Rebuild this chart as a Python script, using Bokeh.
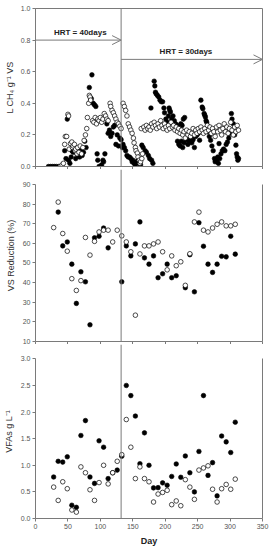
from bokeh.plotting import figure
from bokeh.layouts import column
from bokeh.models import (Span, Arrow, OpenHead, Label, LinearAxis, FixedTicker,
                          NumeralTickFormatter, Range1d)
from bokeh.embed import file_html
from bokeh.resources import INLINE

# ---------------- data ----------------
ch4_filled_day = [20, 23, 26, 29, 32, 36, 45, 47, 49, 51, 53, 55, 56, 58, 60, 62, 64, 66, 68, 70, 72, 74, 76, 78,
                  83, 85, 86, 87, 89, 91, 93, 95, 96, 98, 100, 102, 104, 105, 107,
                  110, 112, 114, 116, 118, 120, 122, 124, 126, 128, 130, 132, 134, 135, 137, 139, 141, 143, 145, 147,
                  149, 150, 152, 154, 156, 158, 160, 162, 164, 166, 169, 171, 174, 176, 178, 179, 181,
                  183, 184, 185, 186, 188, 190, 192, 194, 196, 198, 199, 201, 203, 205, 206, 207, 208, 210, 212, 214,
                  216, 218, 219, 220, 221, 222, 223, 224, 225, 226, 227, 228, 229, 230, 233, 235, 237, 239, 241, 243,
                  245, 247, 249, 251, 253, 255, 257, 258, 260, 261, 262, 263, 264, 266, 268, 270, 272, 274, 276, 277,
                  279, 281, 282, 283, 284, 286, 288, 290, 292, 294, 296, 298, 300, 302, 303, 305, 307, 309, 310, 311,
                  312, 313]
ch4_filled = [0.0, 0.0, 0.0, 0.0, 0.0, 0.0, 0.10, 0.05, 0.30, 0.04, 0.02, 0.06, 0.10, 0.09, 0.12, 0.05, 0.08, 0.07,
              0.06, 0.10, 0.07, 0.09, 0.16, 0.12,
              0.50, 0.42, 0.43, 0.58, 0.40, 0.39, 0.38, 0.08, 0.04, 0.00, 0.00, 0.01, 0.04, 0.03, 0.08,
              0.27, 0.21, 0.23, 0.19, 0.21, 0.25, 0.26, 0.14, 0.20, 0.13, 0.18, 0.17, 0.12, 0.14, 0.12, 0.10, 0.07,
              0.06, 0.06, 0.05,
              0.03, 0.04, 0.02, 0.01, 0.03, 0.04, 0.02, 0.01, 0.135, 0.12, 0.10, 0.09, 0.07, 0.05, 0.37, 0.04, 0.02,
              0.54, 0.51, 0.47, 0.46, 0.45, 0.44, 0.42, 0.41, 0.41, 0.37, 0.34, 0.30, 0.28, 0.32, 0.37, 0.355, 0.345,
              0.30, 0.32, 0.29,
              0.27, 0.26, 0.16, 0.25, 0.14, 0.24, 0.13, 0.27, 0.16, 0.26, 0.12, 0.30, 0.15, 0.31, 0.17, 0.14, 0.16,
              0.18, 0.15, 0.17,
              0.12, 0.19, 0.20, 0.21, 0.166, 0.42, 0.376, 0.366, 0.335, 0.324, 0.313, 0.29, 0.28, 0.22, 0.19, 0.166,
              0.13, 0.10, 0.05, 0.03,
              0.04, 0.06, 0.02, 0.145, 0.05, 0.08, 0.10, 0.11, 0.10, 0.14, 0.155, 0.18, 0.21, 0.335, 0.30, 0.27, 0.20,
              0.135, 0.08, 0.06,
              0.04, 0.05]

ch4_open_day = [38, 41, 43, 45, 46, 48, 50, 51, 52, 54, 56, 57, 58, 60, 61, 62, 64, 65, 67, 69, 71, 73, 75, 77, 79,
                80, 82, 83, 84, 85,
                88, 90, 92, 94, 96, 98, 100, 102, 104, 106, 108, 110, 112, 115, 116, 118, 120, 122, 124, 126, 128,
                130, 132, 135, 137, 139, 141, 143, 145, 147, 149, 151, 152, 154, 155, 157, 158, 160, 161, 162, 164,
                165,
                163, 167, 169, 171, 173, 175, 177, 179, 181, 183, 185, 187, 189, 191, 193, 195, 197, 199, 201, 203,
                205, 207, 209, 211, 213, 215, 217, 219, 221, 223, 225, 227, 229, 231, 233, 235, 237, 239, 241, 243,
                245, 247, 249, 251, 253, 255, 257, 259, 261, 263, 265, 267, 269, 271, 273, 275, 277, 279, 281, 283,
                285, 287, 289, 291, 293, 295, 297, 299, 301, 303, 305, 307, 309, 311, 313]
ch4_open = [0.00, 0.01, 0.02, 0.14, 0.19, 0.19, 0.33, 0.32, 0.11, 0.145, 0.155, 0.12, 0.13, 0.14, 0.10, 0.11, 0.08,
            0.12, 0.09, 0.13, 0.08, 0.12, 0.165, 0.20, 0.24,
            0.31, 0.40, 0.45, 0.44, 0.42,
            0.29, 0.28, 0.31, 0.27, 0.30, 0.29, 0.31, 0.28, 0.30, 0.335, 0.32, 0.30, 0.29, 0.40, 0.38, 0.355, 0.34,
            0.32, 0.30, 0.28, 0.27,
            0.255, 0.24, 0.40, 0.38, 0.355, 0.32, 0.27, 0.25, 0.23, 0.21, 0.18, 0.15, 0.12, 0.10, 0.085, 0.06, 0.04,
            0.02, 0.03, 0.05,
            0.08,
            0.24, 0.25, 0.23, 0.26, 0.24, 0.25, 0.23, 0.27, 0.25, 0.28, 0.26, 0.24, 0.27, 0.25, 0.29, 0.26, 0.24,
            0.27, 0.25, 0.23,
            0.26, 0.24, 0.28, 0.25, 0.26, 0.23, 0.25, 0.22, 0.24, 0.21, 0.23, 0.20, 0.22, 0.18, 0.23, 0.20, 0.22,
            0.19, 0.21, 0.24,
            0.20, 0.23, 0.21, 0.24, 0.22, 0.25, 0.23, 0.21, 0.24, 0.22, 0.26, 0.23, 0.25, 0.21, 0.24, 0.22, 0.19,
            0.25, 0.22, 0.26,
            0.23, 0.20, 0.24, 0.27, 0.22, 0.25, 0.21, 0.24, 0.28, 0.23, 0.20, 0.25, 0.22, 0.26, 0.23]

week_day = [28, 35, 42, 49, 56, 63, 70, 77, 84, 91, 98, 105, 112, 119, 126, 133, 140, 147, 154, 161, 168, 175, 182,
            189, 196, 203, 210, 217, 224, 231, 238, 245, 252, 259, 266, 273, 280, 287, 294, 301, 308]

vs_open = [68, 81, 65, 56, 42, 36, 41, 63, 54, 61, 65.8, 66.7, 66.7, 60.7, 66.7, 63.8, 60.7, 55.7, 23.4, 54.6, 58.7,
           58.7, 59.7, 60.7, 55.7, 46.5, 53.6, 48.6, 50.6, 38.6, 54.7, 70.9, 75.9, 66.7, 65.8, 67.8, 69.7, 70.9,
           68.9, 68.9, 69.7]
vs_filled_day = [35, 42, 49, 56, 63, 70, 77, 84, 91, 98, 105, 112, 133, 140, 147, 154, 161, 168, 175, 182, 189, 196,
                 203, 210, 217, 231, 238, 245, 252, 259, 266, 273, 280, 287, 294, 301, 308]
vs_filled = [75.9, 58.7, 60.7, 49.4, 29.4, 45.5, 40.4, 18.5, 62.8, 63.6, 67.8, 57.7, 40.4, 58.7, 53.6, 59.7, 70.9,
             52.6, 49.4, 53.6, 42.5, 44.5, 49.4, 42.5, 43.5, 37.4, 54.2, 35.3, 70.5, 58.5, 49.4, 45.2, 49.4, 53.4,
             53.1, 63.6, 54.5]

vfa_filled = [0.78, 1.075, 1.06, 1.16, 0.25, 0.21, 1.56, 1.84, 0.78, 0.66, 1.46, 1.34, 0.75, 0.86, 0.91, 1.17, 2.50,
              2.31, 1.925, 1.03, 1.61, 1.0, 0.575, 0.58, 0.67, 0.625, 0.79, 1.025, 0.775, 1.175, 0.86, 0.5, 1.26,
              2.31, 0.81, 1.05, 0.425, 1.55, 1.44, 1.24, 1.81]
vfa_open = [0.59, 0.34, 0.69, 0.56, 0.16, 0.12, 0.97, 0.86, 0.54, 0.34, 0.675, 1.0, 0.65, 0.86, 1.075, 1.2, 1.86,
            1.34, 0.75, 0.97, 0.75, 0.69, 0.31, 0.46, 0.49, 0.53, 0.26, 0.33, 0.24, 0.73, 0.59, 0.36, 0.91, 0.95,
            0.99, 0.55, 0.31, 0.56, 0.64, 0.55, 0.74]

x_ticks = [0, 50, 100, 150, 200, 250, 300, 350]
ch4_ticks = [0.0, 0.2, 0.4, 0.6, 0.8, 1.0]
vs_ticks = [10, 20, 30, 40, 50, 60, 70, 80, 90]
vfa_ticks = [0.0, 0.5, 1.0, 1.5, 2.0, 2.5, 3.0]

hrt_change_day = 132
hrt1_label = "HRT = 40days"
hrt2_label = "HRT = 30days"

# ---------------- style ----------------
FONT = "Liberation Sans"
LINE = "#7a7a7a"
TICKTXT = "#555555"
MS = 4.6


def style(p, y_ticks, y_fmt, y_label, y_bounds, label_standoff, show_x_labels=False):
    p.xaxis.ticker = FixedTicker(ticks=x_ticks)
    p.yaxis.ticker = FixedTicker(ticks=y_ticks)
    if y_fmt:
        p.yaxis.formatter = NumeralTickFormatter(format=y_fmt)
    p.yaxis.bounds = y_bounds
    p.yaxis.axis_label = y_label
    for ax in (p.xaxis[0], p.yaxis[0]):
        ax.axis_line_color = LINE
        ax.major_tick_line_color = LINE
        ax.major_tick_out = 3
        ax.major_tick_in = 0
        ax.minor_tick_line_color = None
        ax.major_label_text_font = FONT
        ax.major_label_text_color = TICKTXT
        ax.major_label_text_font_size = "7px"
        ax.major_label_standoff = 2
        ax.axis_label_text_font = FONT
        ax.axis_label_text_font_style = "normal"
        ax.axis_label_text_color = "#333333"
        ax.axis_label_text_font_size = "9px"
    p.yaxis.axis_label_standoff = label_standoff
    p.xaxis.axis_label_standoff = 4
    if not show_x_labels:
        p.xaxis.major_label_text_font_size = "0px"
        p.xaxis.major_label_text_color = None
        p.xaxis.major_label_standoff = 0
    p.xgrid.visible = False
    p.ygrid.visible = False
    p.add_layout(Span(location=hrt_change_day, dimension="height", line_color=LINE, line_width=1))


def right_line(p, bounds):
    ax = LinearAxis(bounds=bounds, ticker=FixedTicker(ticks=[]), axis_line_color=LINE,
                    major_tick_line_color=None, minor_tick_line_color=None,
                    major_label_text_font_size="0px", major_label_text_color=None,
                    major_label_standoff=0, major_tick_out=0, major_tick_in=0)
    p.add_layout(ax, "right")


# ---------------- panel 1 ----------------
p1 = figure(frame_width=227, frame_height=158, min_border_left=35, min_border_right=8, min_border_top=8,
            min_border_bottom=0, x_range=Range1d(0, 350), y_range=Range1d(0, 1.0),
            output_backend="svg", toolbar_location=None)
p1.outline_line_color = LINE
style(p1, ch4_ticks, "0.0", "L CH\u2084 g\u207b\u00b9 VS", (0, 1.0), 3)
p1.scatter(ch4_filled_day, ch4_filled, marker="circle", size=MS, fill_color="black", line_color="black",
           line_width=0.6)
p1.scatter(ch4_open_day, ch4_open, marker="circle", size=MS, fill_color="white", line_color="black",
           line_width=0.7)
p1.add_layout(Arrow(end=OpenHead(size=9, line_color=LINE, line_width=1), x_start=0, y_start=0.8,
                    x_end=hrt_change_day, y_end=0.8, line_color=LINE, line_width=1))
p1.add_layout(Arrow(end=OpenHead(size=9, line_color=LINE, line_width=1), x_start=hrt_change_day, y_start=0.678,
                    x_end=350, y_end=0.678, line_color=LINE, line_width=1))
p1.add_layout(Label(x=69, y=0.846, text=hrt1_label, text_font=FONT, text_font_style="bold",
                    text_font_size="8px", text_align="center", text_baseline="middle", text_color="#222222"))
p1.add_layout(Label(x=232, y=0.728, text=hrt2_label, text_font=FONT, text_font_style="bold",
                    text_font_size="8px", text_align="center", text_baseline="middle", text_color="#222222"))

# ---------------- panel 2 ----------------
p2 = figure(frame_width=227, frame_height=172, min_border_left=35, min_border_right=8, min_border_top=0,
            min_border_bottom=0, x_range=Range1d(0, 350), y_range=Range1d(10, 97.6),
            output_backend="svg", toolbar_location=None)
p2.outline_line_color = None
style(p2, vs_ticks, None, "VS Reduction (%)", (10, 90), 4)
right_line(p2, (10, 90))
p2.scatter(vs_filled_day, vs_filled, marker="circle", size=MS, fill_color="black", line_color="black",
           line_width=0.6)
p2.scatter(week_day, vs_open, marker="circle", size=MS, fill_color="white", line_color="black", line_width=0.7)

# ---------------- panel 3 ----------------
p3 = figure(frame_width=227, frame_height=174, min_border_left=35, min_border_right=8, min_border_top=0,
            min_border_bottom=0, x_range=Range1d(0, 350), y_range=Range1d(0, 3.27),
            output_backend="svg", toolbar_location=None)
p3.outline_line_color = None
style(p3, vfa_ticks, "0.0", "VFAs g L\u207b\u00b9", (0, 3.0), 4, show_x_labels=True)
p3.xaxis.axis_label = "Day"
p3.xaxis.axis_label_text_font_style = "bold"
p3.xaxis.axis_label_text_color = "#222222"
right_line(p3, (0, 3.0))
p3.scatter(week_day, vfa_filled, marker="circle", size=MS, fill_color="black", line_color="black", line_width=0.6)
p3.scatter(week_day, vfa_open, marker="circle", size=MS, fill_color="white", line_color="black", line_width=0.7)

layout = column(p1, p2, p3, spacing=0)
open("out.html", "w").write(file_html(layout, INLINE))
